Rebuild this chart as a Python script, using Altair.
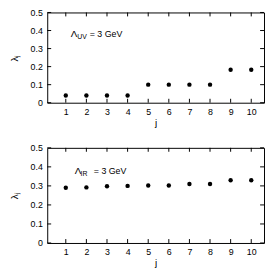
import altair as alt
import pandas as pd

j_vals = [1, 2, 3, 4, 5, 6, 7, 8, 9, 10]
lam_uv = [0.04, 0.04, 0.04, 0.04, 0.1, 0.1, 0.1, 0.1, 0.183, 0.183]
lam_ir = [0.29, 0.292, 0.298, 0.30, 0.302, 0.302, 0.31, 0.31, 0.33, 0.33]
x_ticks = [1, 2, 3, 4, 5, 6, 7, 8, 9, 10]
y_ticks = [0, 0.1, 0.2, 0.3, 0.4, 0.5]

FONT = "Liberation Sans"
W = 221
XDOM = [0.1, 10.62]


def panel(vals, H, sub, xs, ysv):
    df = pd.DataFrame({"j": j_vals, "lam": vals})
    xt = pd.DataFrame({"j": x_ticks})
    yt = pd.DataFrame({"lam": y_ticks})
    X = alt.X("j:Q", scale=alt.Scale(domain=XDOM, nice=False, zero=False),
              axis=alt.Axis(values=x_ticks, format="d", title="j"))
    Y = alt.Y("lam:Q", scale=alt.Scale(domain=[0, 0.5], nice=False),
              axis=alt.Axis(values=y_ticks, format="~g", title="λⱼ"))
    pts = alt.Chart(df).mark_circle(size=20, color="black", opacity=1).encode(x=X, y=Y)
    xb = alt.Chart(xt).mark_rule(color="black", strokeWidth=1).encode(
        x=X, y=alt.value(H), y2=alt.value(H - 4))
    xtp = alt.Chart(xt).mark_rule(color="black", strokeWidth=1).encode(
        x=X, y=alt.value(0), y2=alt.value(4))
    yl = alt.Chart(yt).mark_rule(color="black", strokeWidth=1).encode(
        y=Y, x=alt.value(0), x2=alt.value(4))
    yr = alt.Chart(yt).mark_rule(color="black", strokeWidth=1).encode(
        y=Y, x=alt.value(W - 4), x2=alt.value(W))
    t1 = alt.Chart(pd.DataFrame({"j": [xs[0]], "lam": [ysv], "t": ["Λ"]})).mark_text(
        align="left", baseline="middle", fontSize=10, font=FONT, color="black").encode(
        x=X, y=Y, text="t:N")
    t2 = alt.Chart(pd.DataFrame({"j": [xs[1]], "lam": [ysv], "t": [sub]})).mark_text(
        align="left", baseline="middle", fontSize=7, dy=3, font=FONT, color="black").encode(
        x=X, y=Y, text="t:N")
    t3 = alt.Chart(pd.DataFrame({"j": [xs[2]], "lam": [ysv], "t": ["= 3 GeV"]})).mark_text(
        align="left", baseline="middle", fontSize=9, font=FONT, color="black").encode(
        x=X, y=Y, text="t:N")
    return alt.layer(pts, xb, xtp, yl, yr, t1, t2, t3).properties(width=W, height=H)


top = panel(lam_uv, 92, "UV", [1.24, 1.56, 2.16], 0.38)
bot = panel(lam_ir, 97, "IR", [1.43, 1.72, 2.36], 0.38)

chart = alt.vconcat(top, bot, spacing=46, bounds="flush").properties(
    padding={"left": 0, "top": -3, "right": 0, "bottom": 0}
).configure_view(stroke="black", strokeWidth=1).configure_axis(
    ticks=False, domain=False, grid=False, labelFont=FONT, labelFontSize=9,
    labelColor="black", labelPadding=5, titleFont=FONT, titleFontSize=10,
    titleFontWeight="normal", titleColor="black"
).configure_axisX(titlePadding=1).configure_axisY(titlePadding=11)

chart.save("out.html", embed_options={"renderer": "svg", "actions": False})
